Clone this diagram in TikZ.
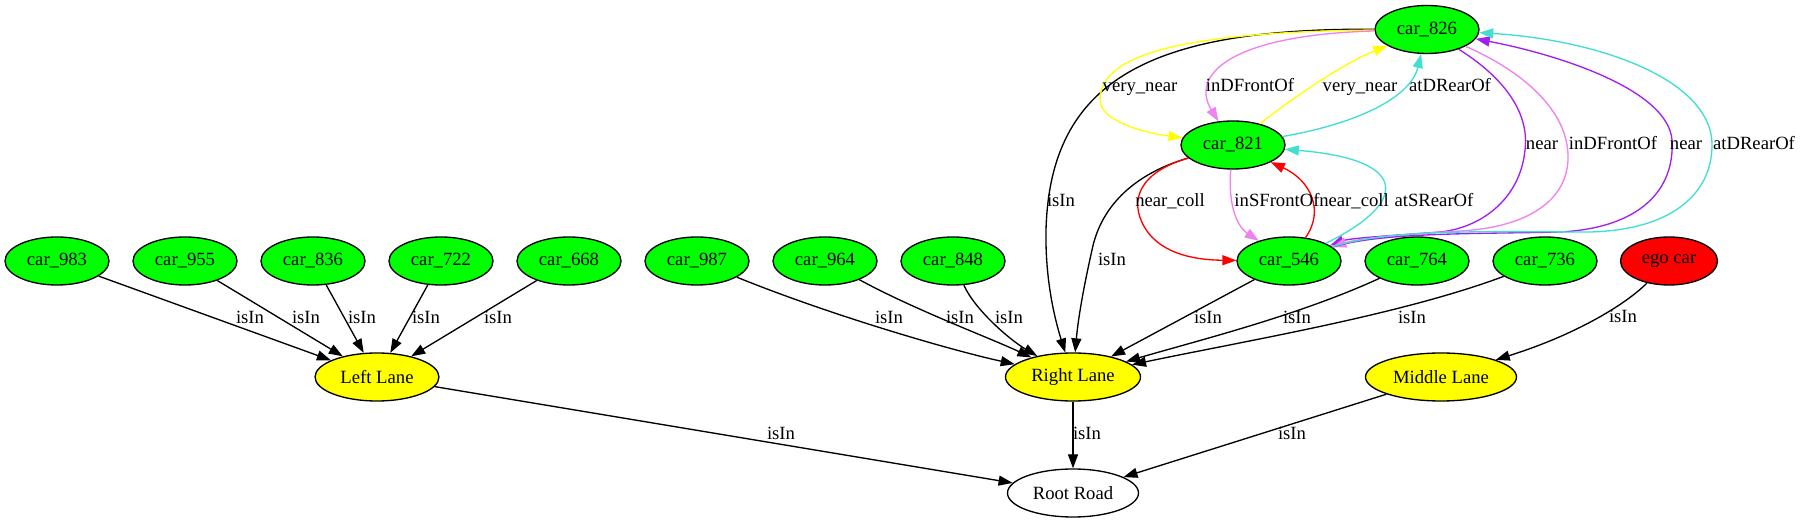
\documentclass[tikz,border=0pt]{standalone}
\usepackage{fontspec}
\setmainfont{Liberation Serif}
\usetikzlibrary{shapes.geometric,arrows.meta}
\definecolor{gvgreen}{HTML}{00FF00}
\definecolor{gvyellow}{HTML}{FFFF00}
\definecolor{gvred}{HTML}{FF0000}
\definecolor{gvviolet}{HTML}{EE82EE}
\definecolor{gvpurple}{HTML}{A020F0}
\definecolor{gvturq}{HTML}{40E0D0}
\begin{document}
\begin{tikzpicture}[x=0.75pt,y=-0.75pt,
  every node/.style={font=\fontsize{14}{16}\selectfont},
  gnode/.style={ellipse,draw=black,line width=1pt,inner sep=0pt,minimum height=36pt},
  car/.style={gnode,fill=gvgreen,minimum width=78pt},
  lane/.style={gnode,fill=gvyellow},
  lab/.style={anchor=base,inner sep=0pt},
  conn/.style={line width=1pt,-{Triangle[length=10.5pt,width=7.5pt]}},
]
\fill[white] (0,0) rectangle (1800,523);
\useasboundingbox (0,0) rectangle (1800,523);

% nodes
\node[car] (c983) at (57,261) {car\_983};
\node[car] (c955) at (185,261) {car\_955};
\node[car] (c836) at (313,261) {car\_836};
\node[car] (c722) at (441,261) {car\_722};
\node[car] (c668) at (569,261) {car\_668};
\node[car] (c987) at (697,261) {car\_987};
\node[car] (c964) at (825,261) {car\_964};
\node[car] (c848) at (953,261) {car\_848};
\node[car] (c546) at (1289,261) {car\_546};
\node[car] (c764) at (1417,261) {car\_764};
\node[car] (c736) at (1545,261) {car\_736};
\node[gnode,fill=gvred,minimum width=72.75pt] (ego) at (1669,261) {ego car};
\node[car] (c826) at (1427,29.5) {car\_826};
\node[car] (c821) at (1233,145) {car\_821};
\node[lane,minimum width=93pt] (LL) at (377,377) {Left Lane};
\node[lane,minimum width=101.25pt] (RL) at (1073,377) {Right Lane};
\node[lane,minimum width=113.25pt] (ML) at (1441,377) {Middle Lane};
\node[gnode,fill=white,minimum width=98.25pt] (RR) at (1073,493) {Root Road};

% isIn edges to lanes
\draw[conn] (c983) -- (LL);
\draw[conn] (c955) -- (LL);
\draw[conn] (c836) -- (LL);
\draw[conn] (c722) -- (LL);
\draw[conn] (c668) -- (LL);
\draw[conn] (c987) .. controls (830,315) and (950,350) .. (RL);
\draw[conn] (c964) .. controls (915,310) and (990,338) .. (RL);
\draw[conn] (c848) .. controls (975,310) and (1010,340) .. (RL);
\draw[conn] (c546) -- (RL);
\draw[conn] (c764) .. controls (1300,315) and (1200,340) .. (RL);
\draw[conn] (c736) .. controls (1400,315) and (1250,340) .. (RL);
\draw[conn] (ego) .. controls (1625,305) and (1575,335) .. (ML);
\draw[conn] (LL) -- (RR);
\draw[conn] (RL) -- (RR);
\draw[conn] (ML) -- (RR);

% top cluster
\draw[conn] (c826) .. controls (1150,28) and (1050,80) .. (1046,230) .. controls (1045,280) and (1055,320) .. (RL);
\draw[conn,gvyellow] (c826) .. controls (1180,32) and (1100,55) .. (1100,100) .. controls (1100,120) and (1140,132) .. (c821);
\draw[conn,gvviolet] (c826) .. controls (1230,35) and (1190,75) .. (c821);
\draw[conn,gvyellow] (c821) .. controls (1290,100) and (1340,65) .. (c826);
\draw[conn,gvturq] (c821) .. controls (1350,125) and (1410,100) .. (c826);
\draw[conn] (c821) .. controls (1130,175) and (1100,210) .. (1092,250) .. controls (1083,290) and (1078,320) .. (RL);
\draw[conn,gvred] (c821) .. controls (1140,172) and (1128,200) .. (1145,228) .. controls (1162,256) and (1200,260) .. (c546);
\draw[conn,gvviolet] (c821) .. controls (1228,200) and (1235,225) .. (c546);
\draw[conn,gvred] (c546) .. controls (1325,210) and (1310,180) .. (c821);
\draw[conn,gvturq] (c546) .. controls (1405,205) and (1415,160) .. (c821);

% right loops
\draw[conn,gvpurple] (c826) .. controls (1500,75) and (1530,110) .. (1525,150) .. controls (1520,200) and (1480,228) .. (1440,232) .. controls (1400,235) and (1350,238) .. (c546);
\draw[conn,gvviolet] (c826) .. controls (1520,70) and (1570,110) .. (1568,160) .. controls (1566,205) and (1520,228) .. (1460,231) .. controls (1410,234) and (1360,238) .. (c546);
\draw[conn,gvpurple] (c546) .. controls (1380,232) and (1480,234) .. (1560,232) .. controls (1640,228) and (1675,190) .. (1672,140) .. controls (1668,90) and (1560,55) .. (c826);
\draw[conn,gvturq] (c546) .. controls (1390,228) and (1500,232) .. (1590,232) .. controls (1670,230) and (1712,195) .. (1712,145) .. controls (1712,80) and (1600,40) .. (c826);

% labels
\node[lab] (l1) at (250,324) {isIn};
\node[lab] (l2) at (306,324) {isIn};
\node[lab] (l3) at (362,324) {isIn};
\node[lab] (l4) at (426,324) {isIn};
\node[lab] (l5) at (498,324) {isIn};
\node[lab] (l6) at (889,324) {isIn};
\node[lab] (l7) at (960,324) {isIn};
\node[lab] (l8) at (1009,324) {isIn};
\node[lab] (l9) at (1208,324) {isIn};
\node[lab] (l10) at (1297,324) {isIn};
\node[lab] (l11) at (1412,324) {isIn};
\node[lab] (l12) at (1623,323) {isIn};
\node[lab] (l13) at (781,440) {isIn};
\node[lab] (l14) at (1087,440) {isIn};
\node[lab] (l15) at (1292,440) {isIn};
\node[lab] (l16) at (1140,92) {very\_near};
\node[lab] (l17) at (1250,92) {inDFrontOf};
\node[lab] (l18) at (1360,92) {very\_near};
\node[lab] (l19) at (1450,92) {atDRearOf};
\node[lab] (l20) at (1061,207) {isIn};
\node[lab] (l21) at (1170,207) {near\_coll};
\node[lab] (l22) at (1277,207) {inSFrontOf};
\node[lab] (l23) at (1354,207) {near\_coll};
\node[lab] (l24) at (1434,207) {atSRearOf};
\node[lab] (l25) at (1112,266) {isIn};
\node[lab] (l26) at (1542,150) {near};
\node[lab] (l27) at (1613,150) {inDFrontOf};
\node[lab] (l28) at (1686,150) {near};
\node[lab] (l29) at (1754,150) {atDRearOf};
\end{tikzpicture}
\end{document}
